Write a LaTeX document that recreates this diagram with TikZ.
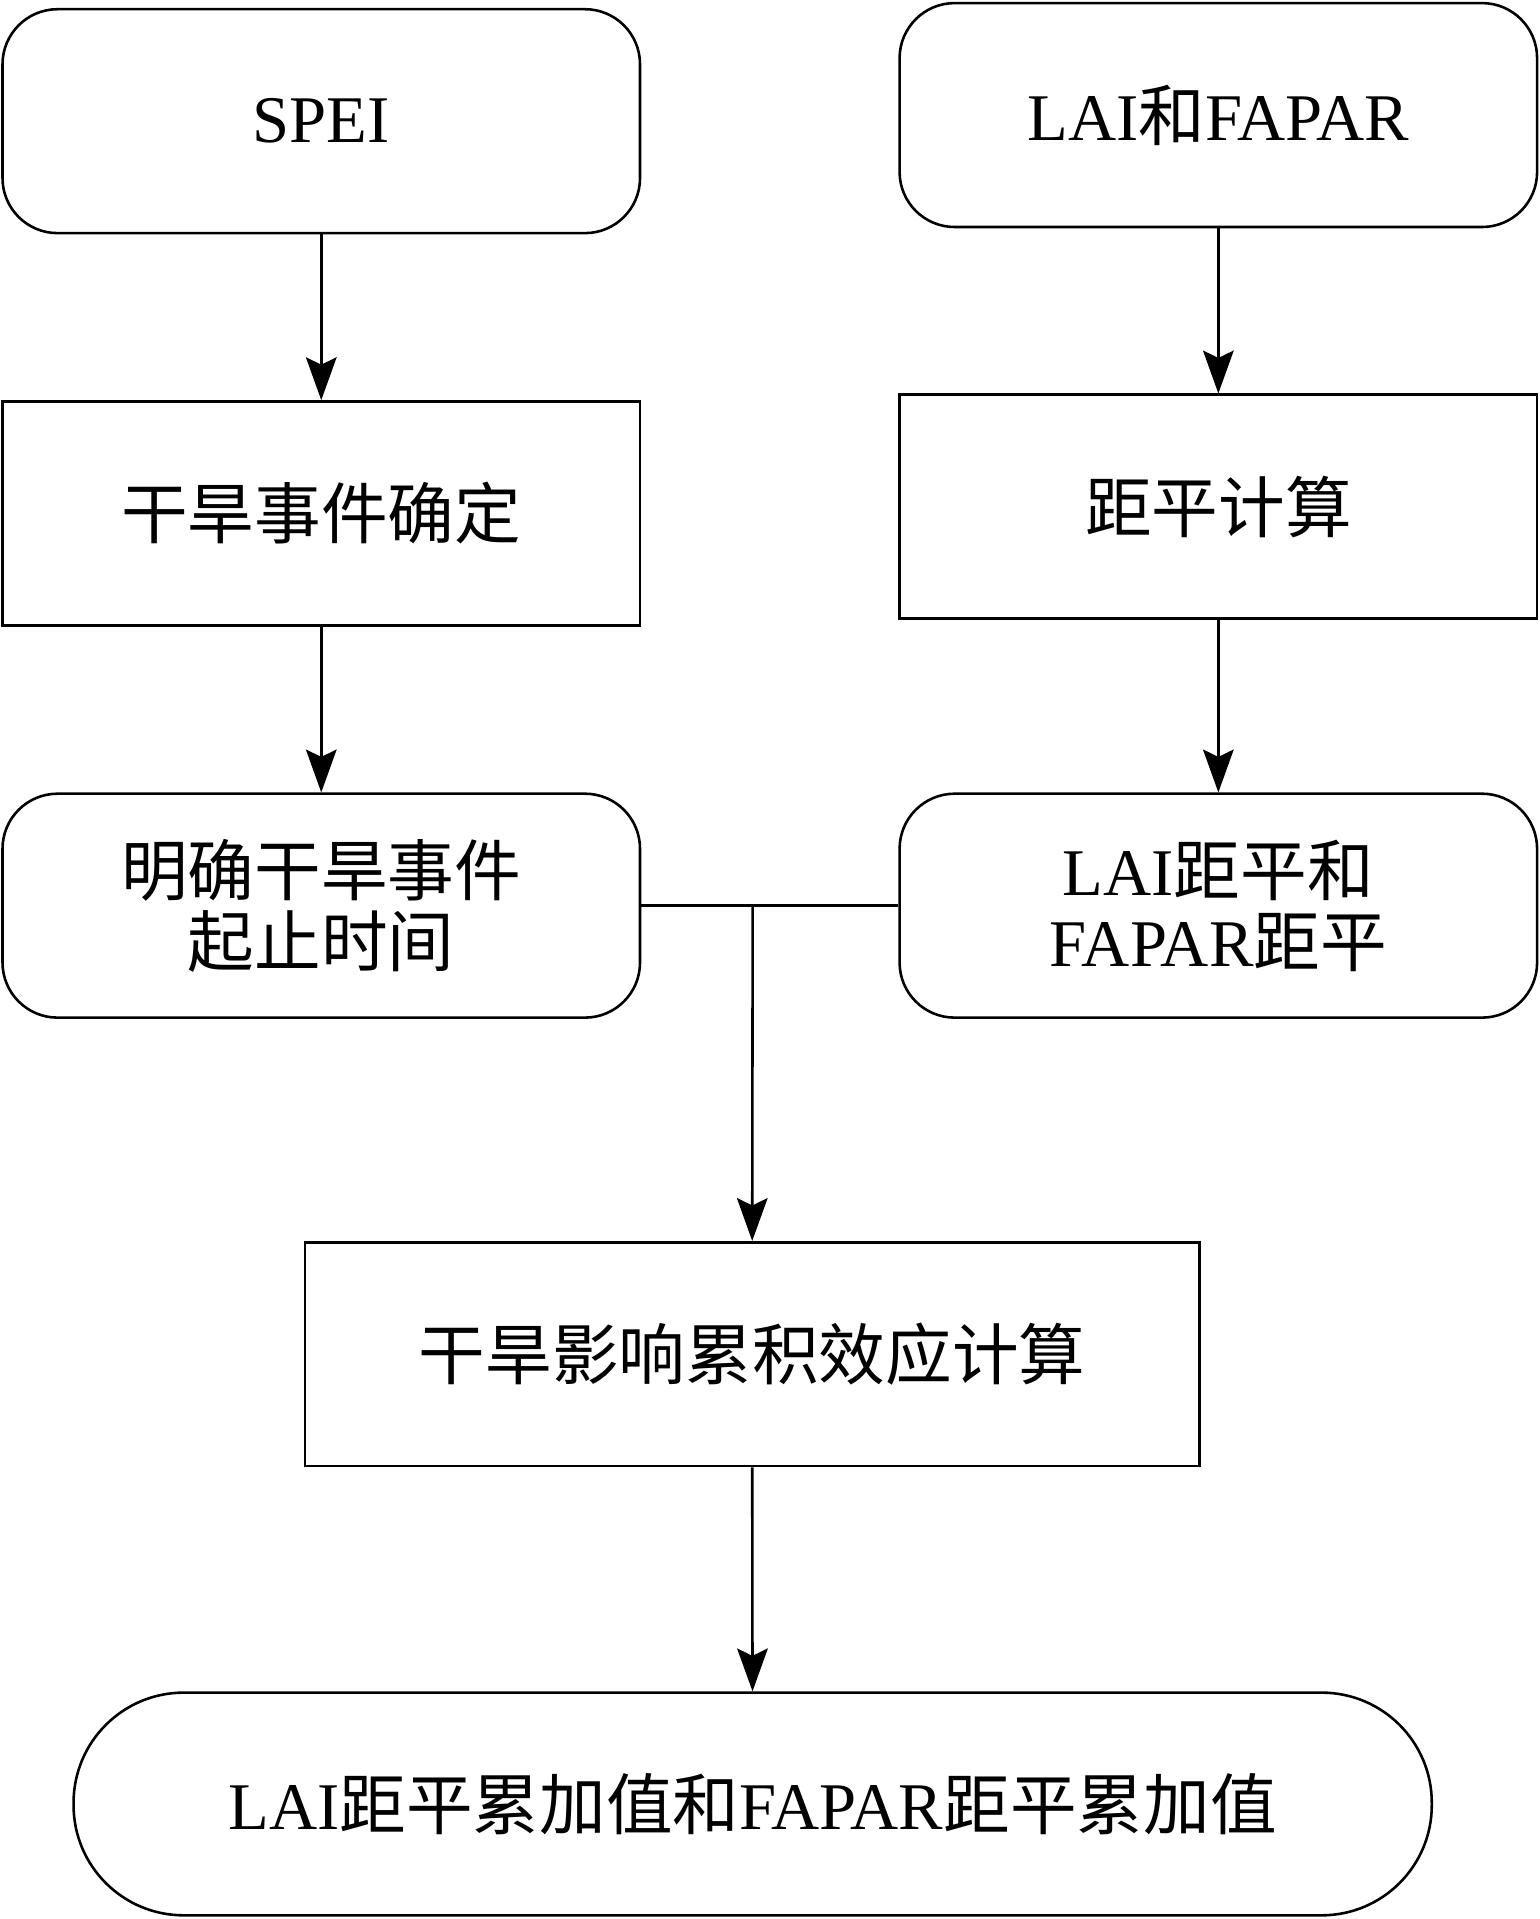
\documentclass[tikz,border=0pt]{standalone}
\usepackage{fontspec}
\setmainfont{Liberation Serif}
\newfontfamily\cjk{Noto Sans CJK SC}
\usetikzlibrary{arrows.meta}
\begin{document}
\begin{tikzpicture}[x=0.02cm,y=-0.02cm,
  every node/.style={inner sep=0pt,line width=1.2pt,font=\fontsize{31}{33}\selectfont,align=center},
  rbox/.style={draw,rounded corners=0.9cm,minimum width=10.42cm,minimum height=3.66cm},
  sbox/.style={draw,minimum width=10.42cm,minimum height=3.66cm},
  arr/.style={line width=1.2pt,-{Stealth[length=0.7cm,width=0.5cm,inset=0.12cm]}}]
\useasboundingbox (0,0) rectangle (1258,1568);
\node[rbox] (spei) at (262.5,99) {SPEI};
\node[rbox] (lai) at (995.5,94) {LAI{\cjk 和}FAPAR};
\node[sbox] (event) at (262.5,419.5) {\cjk 干旱事件确定};
\node[sbox] (anom) at (995.5,414) {\cjk 距平计算};
\node[rbox] (period) at (262.5,740) {\cjk 明确干旱事件\\\cjk 起止时间};
\node[rbox] (laianom) at (995.5,740) {LAI{\cjk 距平和}\\FAPAR{\cjk 距平}};
\node[sbox,minimum width=14.62cm] (effect) at (614.5,1106.5) {\cjk 干旱影响累积效应计算};
\node[draw,line width=1.2pt,rounded corners=1.8cm,minimum width=22.2cm,minimum height=3.64cm] (sum) at (615,1474)
  {LAI{\cjk 距平累加值和}FAPAR{\cjk 距平累加值}};
\coordinate (join) at (615,740);
\draw[arr] (spei) -- (event);
\draw[arr] (event) -- (period);
\draw[arr] (lai) -- (anom);
\draw[arr] (anom) -- (laianom);
\draw[line width=1.2pt] (period) -- (laianom);
\draw[arr] (join) -- (effect);
\draw[arr] (effect) -- (sum);
\end{tikzpicture}
\end{document}
